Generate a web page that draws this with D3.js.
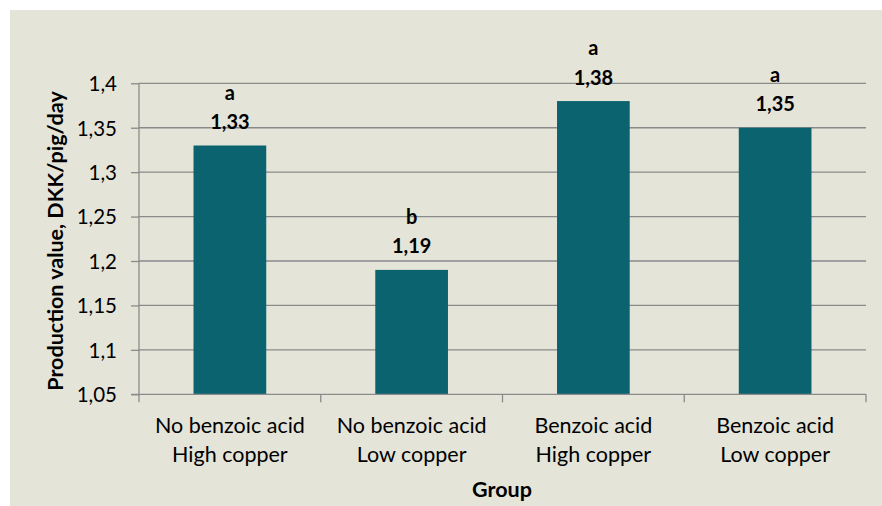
<!DOCTYPE html>
<html>
<head>
<meta charset="utf-8">
<script src="https://cdn.jsdelivr.net/npm/d3@7/dist/d3.min.js"></script>
<style>
  html, body { margin: 0; padding: 0; background: #ffffff; }
  svg { display: block; }
  text { font-family: Lato, "Open Sans", sans-serif; fill: #000; }
</style>
</head>
<body>
<svg id="chart" width="882" height="506"></svg>
<script>
// ---- data ----
const categoriesLine1 = ["No benzoic acid", "No benzoic acid", "Benzoic acid", "Benzoic acid"];
const categoriesLine2 = ["High copper", "Low copper", "High copper", "Low copper"];
const values = [1.33, 1.19, 1.38, 1.35];
const valueLabels = ["1,33", "1,19", "1,38", "1,35"];
const sigLetters = ["a", "b", "a", "a"];
const yTicks = [1.05, 1.1, 1.15, 1.2, 1.25, 1.3, 1.35, 1.4];
const yTickLabels = ["1,05", "1,1", "1,15", "1,2", "1,25", "1,3", "1,35", "1,4"];
const yTitle = "Production value, DKK/pig/day";
const xTitle = "Group";

// ---- layout ----
const W = 882, H = 506;
const plot = { left: 139, right: 866, top: 83.3, bottom: 394.3 };
const svg = d3.select("#chart");
const gridColor = "#8a8a8a";
const barColor = "#0b6370";

svg.append("rect").attr("x", 10).attr("y", 10).attr("width", W - 10).attr("height", H - 10)
  .attr("fill", "#e4e4d9");

const idx = d3.range(values.length);
const x = d3.scaleBand().domain(idx).range([plot.left, plot.right]).paddingInner(0.6).paddingOuter(0.3);
const xOuter = d3.scaleBand().domain(idx).range([plot.left, plot.right]);
const y = d3.scaleLinear().domain([1.05, 1.4]).range([plot.bottom, plot.top]);

// gridlines + y axis ticks
const yAxis = d3.axisLeft(y).tickValues(yTicks).tickSize(8)
  .tickFormat((d, i) => yTickLabels[i]);
const gy = svg.append("g").attr("transform", `translate(${plot.left},0)`).call(yAxis);
gy.select(".domain").remove();
gy.selectAll(".tick line").attr("stroke", gridColor).attr("stroke-width", 1.3);
gy.selectAll(".tick text").attr("x", -22).attr("dy", "0.36em")
  .style("font-size", "20.5px").style("font-family", "Lato, sans-serif").attr("fill", "#000");

svg.append("g").selectAll("line").data(yTicks.filter(t => t > 1.05)).join("line")
  .attr("x1", plot.left).attr("x2", plot.right)
  .attr("y1", d => y(d)).attr("y2", d => y(d))
  .attr("stroke", gridColor).attr("stroke-width", 1.3);

// bars
svg.append("g").selectAll("rect").data(values).join("rect")
  .attr("x", (d, i) => x(i)).attr("width", x.bandwidth())
  .attr("y", d => y(d)).attr("height", d => y(1.05) - y(d))
  .attr("fill", barColor);

// y axis line
svg.append("line").attr("x1", plot.left).attr("x2", plot.left)
  .attr("y1", plot.top).attr("y2", plot.bottom + 8)
  .attr("stroke", gridColor).attr("stroke-width", 1.3);

// x axis line and ticks
svg.append("line").attr("x1", plot.left - 8).attr("x2", plot.right)
  .attr("y1", plot.bottom).attr("y2", plot.bottom)
  .attr("stroke", gridColor).attr("stroke-width", 1.3);
const boundaries = idx.map(i => xOuter(i) + xOuter.bandwidth());
svg.append("g").selectAll("line").data(boundaries).join("line")
  .attr("x1", d => d).attr("x2", d => d)
  .attr("y1", plot.bottom).attr("y2", plot.bottom + 8)
  .attr("stroke", gridColor).attr("stroke-width", 1.3);

// category labels
const cx = i => xOuter(i) + xOuter.bandwidth() / 2;
svg.append("g").selectAll("text").data(categoriesLine1).join("text")
  .attr("x", (d, i) => cx(i)).attr("y", 433).attr("text-anchor", "middle")
  .style("font-size", "21.5px").text(d => d);
svg.append("g").selectAll("text").data(categoriesLine2).join("text")
  .attr("x", (d, i) => cx(i)).attr("y", 462).attr("text-anchor", "middle")
  .style("font-size", "21.5px").text(d => d);

// value labels & letters
svg.append("g").selectAll("text").data(values).join("text")
  .attr("x", (d, i) => cx(i)).attr("y", d => y(d) - 16.5).attr("text-anchor", "middle")
  .style("font-size", "20px").style("font-weight", "bold").text((d, i) => valueLabels[i]);
svg.append("g").selectAll("text").data(values).join("text")
  .attr("x", (d, i) => cx(i)).attr("y", d => y(d) - 46).attr("text-anchor", "middle")
  .style("font-size", "20px").style("font-weight", "bold").text((d, i) => sigLetters[i]);

// axis titles
svg.append("text").attr("x", 502).attr("y", 497).attr("text-anchor", "middle")
  .style("font-size", "21.5px").style("font-weight", "bold").text(xTitle);
svg.append("text").attr("transform", `translate(63,241) rotate(-90)`).attr("text-anchor", "middle")
  .style("font-size", "21.5px").style("font-weight", "bold").text(yTitle);
</script>
</body>
</html>
